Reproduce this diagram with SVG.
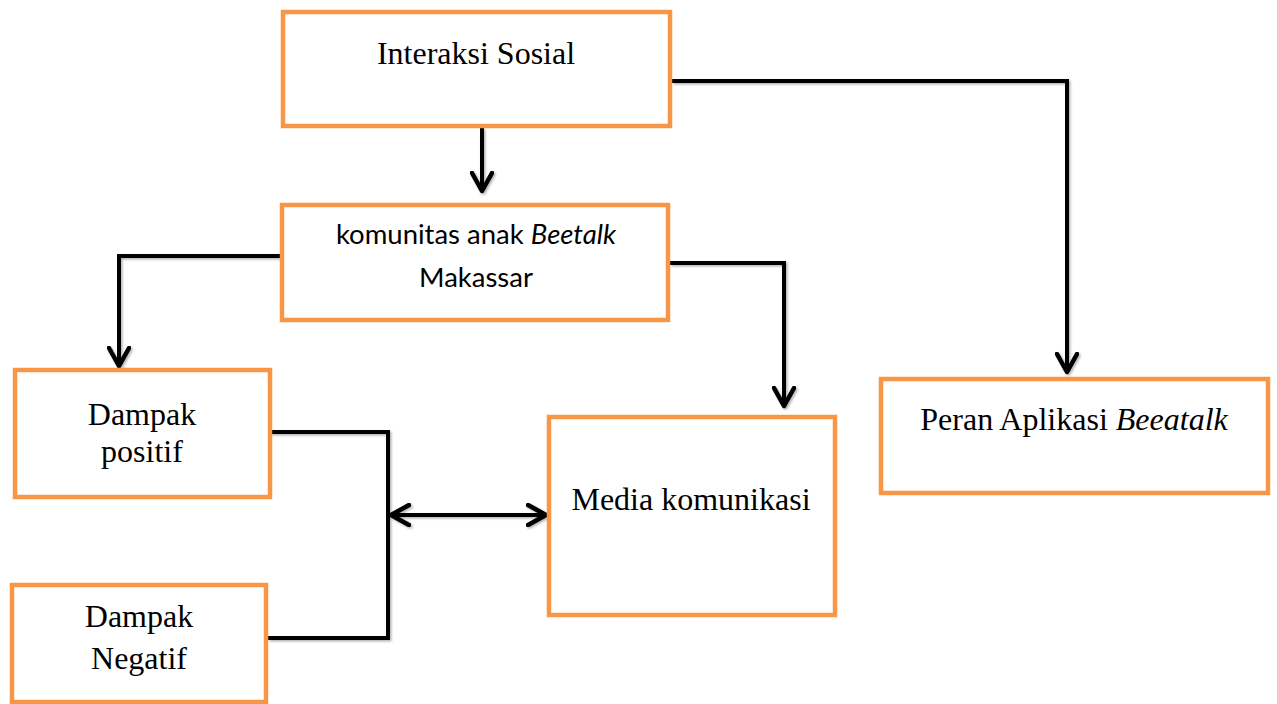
<svg xmlns="http://www.w3.org/2000/svg" width="1277" height="704" viewBox="0 0 1277 704">
  <defs>
    <style>
      .box { fill: #ffffff; stroke: #F79646; stroke-width: 4.5; }
      .conn { fill: none; stroke: #000000; stroke-width: 4; stroke-linejoin: miter; }
      .serif { font-family: "Liberation Serif", "Times New Roman", serif; font-size: 32px; fill: #000000; }
      .sans { font-family: "Lato", "Open Sans", "Liberation Sans", sans-serif; font-size: 27.5px; fill: #000000; }
    </style>
    <marker id="chev" viewBox="-20 -12 24 24" markerWidth="24" markerHeight="24" refX="0" refY="0" orient="auto-start-reverse" markerUnits="userSpaceOnUse">
      <path d="M -18 -10 L 0 0 L -18 10" fill="none" stroke="#000000" stroke-width="4.5" stroke-linecap="round" stroke-linejoin="round"/>
    </marker>
    <filter id="shadow" x="-5%" y="-5%" width="110%" height="110%">
      <feDropShadow dx="1.5" dy="1.5" stdDeviation="1" flood-color="#000000" flood-opacity="0.3"/>
    </filter>
  </defs>
  <rect width="1277" height="704" fill="#ffffff"/>

  <g id="connectors" filter="url(#shadow)">
    <path class="conn" d="M482,128 L482,191" marker-end="url(#chev)"/>
    <path class="conn" d="M672,81 L1067,81 L1067,372" marker-end="url(#chev)"/>
    <path class="conn" d="M282,256 L119,256 L119,366" marker-end="url(#chev)"/>
    <path class="conn" d="M670,263 L784,263 L784,406" marker-end="url(#chev)"/>
    <path class="conn" d="M270,432 L388,432 L388,638 L268,638"/>
    <path class="conn" d="M391,515 L546,515" marker-start="url(#chev)" marker-end="url(#chev)"/>
  </g>

  <g id="node-interaksi">
    <rect class="box" x="283" y="12" width="387" height="114"/>
    <text class="serif" x="476" y="64" text-anchor="middle">Interaksi Sosial</text>
  </g>

  <g id="node-komunitas">
    <rect class="box" x="282" y="205" width="386" height="115"/>
    <text class="sans" x="476" y="244" text-anchor="middle">komunitas anak <tspan font-style="italic">Beetalk</tspan></text>
    <text class="sans" x="476" y="287" text-anchor="middle">Makassar</text>
  </g>

  <g id="node-positif">
    <rect class="box" x="15" y="370" width="255" height="127"/>
    <text class="serif" x="142" y="425" text-anchor="middle">Dampak</text>
    <text class="serif" x="142" y="462" text-anchor="middle">positif</text>
  </g>

  <g id="node-negatif">
    <rect class="box" x="12" y="585" width="254" height="117"/>
    <text class="serif" x="139" y="627" text-anchor="middle">Dampak</text>
    <text class="serif" x="139" y="669" text-anchor="middle">Negatif</text>
  </g>

  <g id="node-media">
    <rect class="box" x="549" y="417" width="286" height="198"/>
    <text class="serif" x="691" y="510" text-anchor="middle">Media komunikasi</text>
  </g>

  <g id="node-peran">
    <rect class="box" x="881" y="379" width="387" height="114"/>
    <text class="serif" x="1074" y="430" text-anchor="middle">Peran Aplikasi <tspan font-style="italic">Beeatalk</tspan></text>
  </g>
</svg>
